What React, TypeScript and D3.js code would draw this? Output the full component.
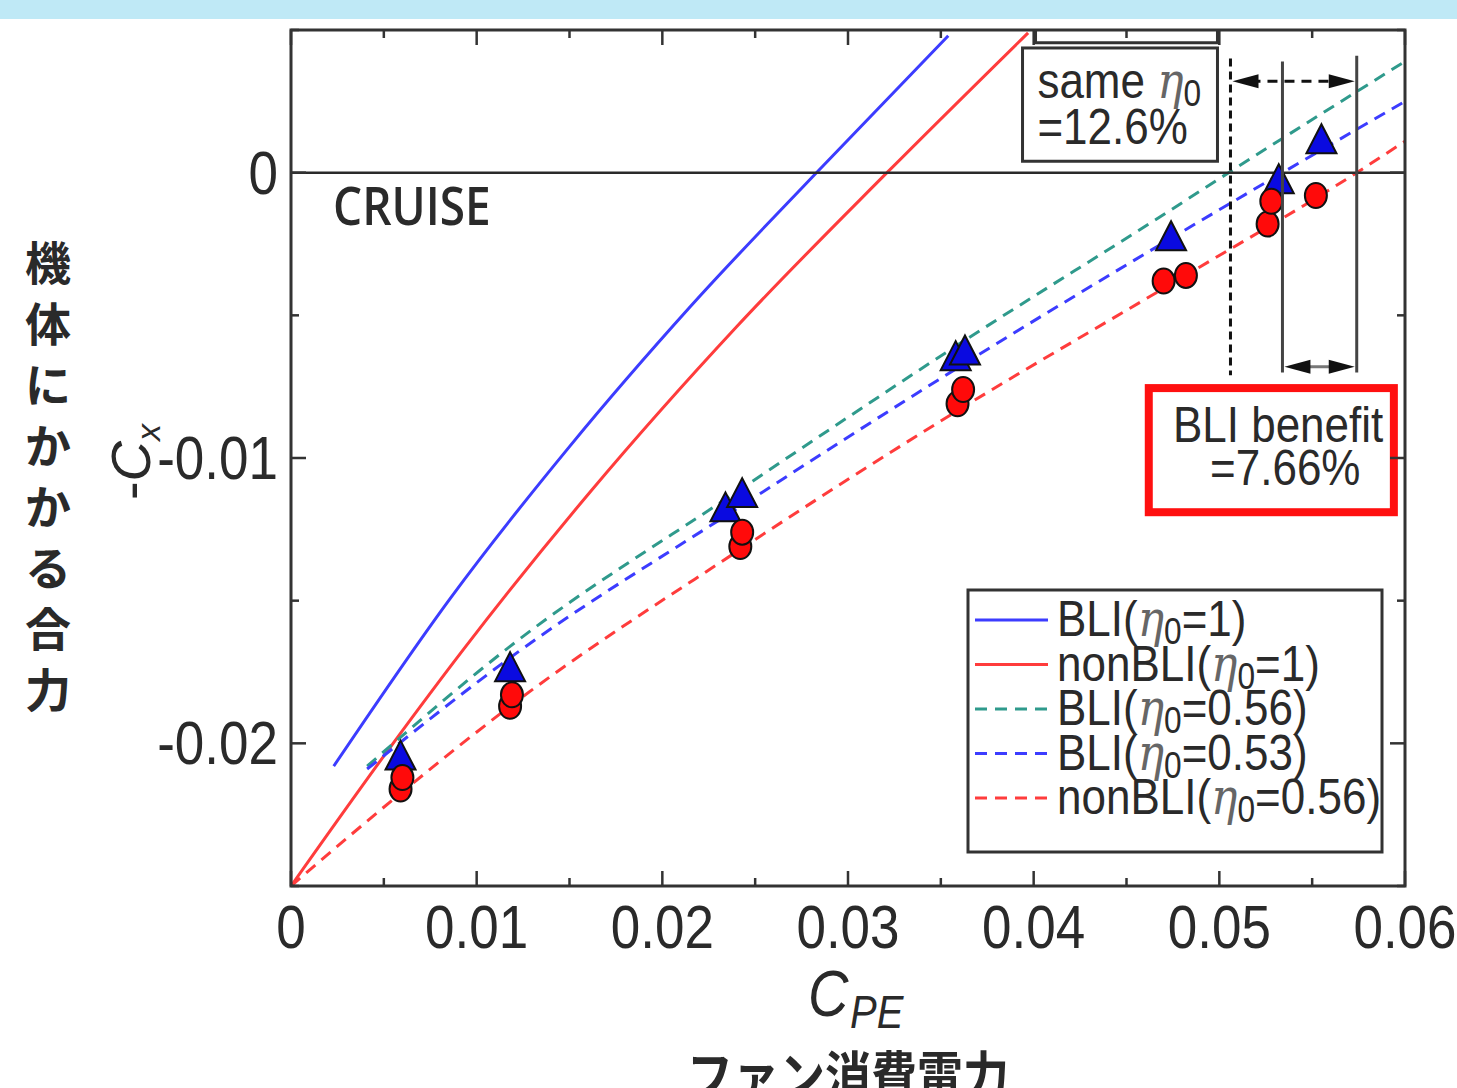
import React from "react";
import * as d3 from "d3";

// ---- data (CPE, -Cx) ----
const xTickLabels = ["0", "0.01", "0.02", "0.03", "0.04", "0.05", "0.06"];
const yTickLabels = ["0", "-0.01", "-0.02"];

const bliIdeal = [[0.0023, -0.0208], [0.0086, -0.0149], [0.0150, -0.0096], [0.0215, -0.0047], [0.0283, 0], [0.0354, 0.0048]];
const nonBliIdeal = [[0, -0.025], [0.0055, -0.0200], [0.0093, -0.0167], [0.0161, -0.0112], [0.0240, -0.0054], [0.0321, 0], [0.0397, 0.0049]];
const bli056 = [[0.0041, -0.0208], [0.0118, -0.0166], [0.0242, -0.0111], [0.0360, -0.0060], [0.0474, -0.0013], [0.0505, 0], [0.060, 0.0039]];
const bli053 = [[0.0041, -0.0209], [0.0118, -0.0170], [0.0242, -0.0117], [0.0360, -0.0068], [0.0474, -0.0023], [0.0534, 0], [0.060, 0.0025]];
const nonBli056 = [[0, -0.025], [0.006, -0.0217], [0.0118, -0.0187], [0.0242, -0.0132], [0.0360, -0.0083], [0.0474, -0.0039], [0.0574, 0], [0.060, 0.0011]];

const bliExpX = [0.0059, 0.0118, 0.0234, 0.0243, 0.0358, 0.0363, 0.0474, 0.0532, 0.0555];
const bliExpY = [-0.0205, -0.0174, -0.0118, -0.0113, -0.0065, -0.0063, -0.0023, -0.0003, 0.0011];
const nonBliExpX = [0.0059, 0.0060, 0.0118, 0.0119, 0.0242, 0.0243, 0.0359, 0.0362, 0.0470, 0.0482, 0.0526, 0.0528, 0.0552];
const nonBliExpY = [-0.0216, -0.0212, -0.0187, -0.0183, -0.0131, -0.0126, -0.0081, -0.0076, -0.0038, -0.0036, -0.0018, -0.0010, -0.0008];

const legendItems = [
  { pre: "BLI(", post: "=1)", color: "#3c3cff", dash: "" },
  { pre: "nonBLI(", post: "=1)", color: "#ff3c3c", dash: "" },
  { pre: "BLI(", post: "=0.56)", color: "#2f9a8c", dash: "12,8" },
  { pre: "BLI(", post: "=0.53)", color: "#3c3cff", dash: "12,8" },
  { pre: "nonBLI(", post: "=0.56)", color: "#ff3c3c", dash: "12,8" },
];
const yTitleChars = ["機", "体", "に", "か", "か", "る", "合", "力"];

const W = 1457;
const H = 1088;
const SY = 1.15; // the source picture is stretched vertically
const INK = "#2a2a2a";
const SANS = "'Liberation Sans', Arial, sans-serif";

const x = d3.scaleLinear().domain([0, 0.06]).range([291, 1405]);
const y = d3.scaleLinear().domain([-0.025, 0.005]).range([886, 30]);

const line = d3.line().x(d => x(d[0])).y(d => y(d[1])).curve(d3.curveMonotoneX);

function T({ x: tx, y: ty, size, anchor = "start", weight = "normal", family = SANS, fill = INK, italic = false, children }) {
  return (
    <text transform={`translate(${tx},${ty}) scale(1,${SY})`} fontSize={size} textAnchor={anchor}
      fontWeight={weight} fontFamily={family} fill={fill} fontStyle={italic ? "italic" : "normal"}>
      {children}
    </text>
  );
}

function Eta({ sub = 0 }) {
  return (
    <>
      <tspan fontFamily="'DejaVu Serif', serif" fontStyle="italic" fill="#666">η</tspan>
      <tspan dy={7} fontSize="0.72em">{sub}</tspan>
    </>
  );
}

function arrowHead(px, py, dir, len = 26, half = 7) {
  // dir: -1 points left, 1 points right
  return `M${px},${py}L${px - dir * len},${py - half}L${px - dir * len},${py + half}Z`;
}

export default function App() {
  const xTicks = x.ticks(12);
  const yTicks = y.ticks(6);
  const [x0, x1] = x.range();
  const yTop = y(0.005);
  const yBot = y(-0.025);

  const triPath = (cx, cy) => `M${cx},${cy - 17}L${cx + 15},${cy + 12}L${cx - 15},${cy + 12}Z`;

  // annotation positions in data units
  const dotX = 0.0506, solidA = 0.0534, solidB = 0.0574;
  const annTop = 0.0040, annBot = -0.0070;
  const arrowTopY = y(0.0032), arrowBotY = y(-0.0068);

  return (
    <svg width={W} height={H} style={{ position: "absolute", left: 0, top: 0, background: "#fff" }}>
      <rect x={0} y={0} width={W} height={19} fill="#bfe9f6" />

      {/* curves */}
      <g fill="none" strokeWidth={3}>
        <path d={line(bliIdeal)} stroke="#3c3cff" />
        <path d={line(nonBliIdeal)} stroke="#ff3c3c" />
        <path d={line(bli056)} stroke="#2f9a8c" strokeDasharray="12,8" />
        <path d={line(bli053)} stroke="#3c3cff" strokeDasharray="12,8" />
        <path d={line(nonBli056)} stroke="#ff3c3c" strokeDasharray="12,8" />
      </g>

      {/* zero line */}
      <line x1={x0} x2={x1} y1={y(0)} y2={y(0)} stroke={INK} strokeWidth={2.5} />

      {/* measured points */}
      <g stroke="#111" strokeWidth={2}>
        {bliExpX.map((v, i) => (
          <path key={"t" + i} d={triPath(x(v), y(bliExpY[i]))} fill="#0a0ae0" />
        ))}
        {nonBliExpX.map((v, i) => (
          <ellipse key={"c" + i} cx={x(v)} cy={y(nonBliExpY[i])} rx={11} ry={12.5} fill="#ff0a0a" />
        ))}
      </g>

      {/* "same eta" box */}
      <g fill="none" stroke="#333" strokeWidth={3}>
        <path d={`M${x(0.0401)},${yTop}V${y(0.00455)}H${x(0.0499)}V${yTop}`} />
        <rect x={x(0.0394)} y={y(0.00437)} width={x(0.0499) - x(0.0394)} height={y(0.0004) - y(0.00437)} fill="#fff" />
      </g>
      <T x={x(0.0402)} y={98} size={44}>same <Eta /></T>
      <T x={x(0.0402)} y={144} size={44}>=12.6%</T>

      {/* difference markers */}
      <line x1={x(dotX)} x2={x(dotX)} y1={y(annTop)} y2={y(annBot - 0.0001)} stroke="#111" strokeWidth={3} strokeDasharray="8,5" />
      <line x1={x(solidA)} x2={x(solidA)} y1={y(annTop - 0.0001)} y2={y(annBot)} stroke="#444" strokeWidth={3} />
      <line x1={x(solidB)} x2={x(solidB)} y1={y(annTop + 0.0001)} y2={y(annBot)} stroke="#444" strokeWidth={3} />
      <line x1={x(dotX) + 20} x2={x(solidB) - 20} y1={arrowTopY} y2={arrowTopY} stroke="#111" strokeWidth={3} strokeDasharray="10,7" />
      <path d={arrowHead(x(dotX) + 2, arrowTopY, -1)} fill="#111" />
      <path d={arrowHead(x(solidB) - 2, arrowTopY, 1)} fill="#111" />
      <line x1={x(solidA) + 20} x2={x(solidB) - 20} y1={arrowBotY} y2={arrowBotY} stroke="#777" strokeWidth={3} />
      <path d={arrowHead(x(solidA) + 2, arrowBotY, -1)} fill="#111" />
      <path d={arrowHead(x(solidB) - 2, arrowBotY, 1)} fill="#111" />

      {/* BLI benefit box */}
      <rect x={x(0.0462)} y={y(-0.00755)} width={x(0.0594) - x(0.0462)} height={y(-0.0119) - y(-0.00755)}
        fill="#fff" stroke="#ff1010" strokeWidth={8} />
      <T x={x(0.0475)} y={442} size={44}>BLI benefit</T>
      <T x={x(0.0495)} y={485} size={44}>=7.66%</T>

      <T x={333} y={225} size={46} weight={600} family="'Open Sans', sans-serif">CRUISE</T>

      {/* legend */}
      <rect x={968} y={590} width={414} height={262} fill="#fff" stroke="#333" strokeWidth={3} />
      {legendItems.map((d, i) => {
        const cy = 620 + i * 44.5;
        return (
          <g key={i}>
            <line x1={975} x2={1048} y1={cy} y2={cy} stroke={d.color} strokeWidth={3} strokeDasharray={d.dash} />
            <T x={1057} y={cy + 16} size={44}>
              {d.pre}<Eta /><tspan dy={-7}>{d.post}</tspan>
            </T>
          </g>
        );
      })}

      {/* frame and ticks */}
      <rect x={x0} y={yTop} width={x1 - x0} height={yBot - yTop} fill="none" stroke="#333" strokeWidth={3} />
      <g stroke="#333" strokeWidth={2.5}>
        {xTicks.map((t, i) => {
          const len = i % 2 === 0 ? 15 : 8;
          return (
            <g key={"xt" + i}>
              <line x1={x(t)} x2={x(t)} y1={yBot} y2={yBot - len} />
              <line x1={x(t)} x2={x(t)} y1={yTop} y2={yTop + len} />
            </g>
          );
        })}
        {yTicks.map((t, i) => {
          const major = Math.abs(Math.round(t / 0.005)) % 2 === 0;
          const len = major ? 15 : 8;
          return (
            <g key={"yt" + i}>
              <line x1={x0} x2={x0 + len} y1={y(t)} y2={y(t)} />
              <line x1={x1} x2={x1 - len} y1={y(t)} y2={y(t)} />
            </g>
          );
        })}
      </g>

      {/* tick labels */}
      {xTicks.filter((t, i) => i % 2 === 0).map((t, i) => (
        <T key={"xl" + i} x={x(t)} y={948} size={53} anchor="middle">{xTickLabels[i]}</T>
      ))}
      {[0, -0.01, -0.02].map((t, i) => (
        <T key={"yl" + i} x={278} y={y(t) + 21} size={53} anchor="end">{yTickLabels[i]}</T>
      ))}

      {/* axis titles */}
      <T x={808} y={1016} size={56} italic>C</T>
      <T x={850} y={1028} size={40} italic>PE</T>
      <T x={848} y={1096} size={46} anchor="middle" weight={700} family="'Noto Sans CJK JP', sans-serif">ファン消費電力</T>

      <text transform="translate(150,462) rotate(-90)" fontSize={56} fontFamily={SANS} fill={INK} textAnchor="middle">
        <tspan>-</tspan><tspan fontStyle="italic">C</tspan><tspan fontSize={34} dy={10} fontStyle="italic">x</tspan>
      </text>

      {yTitleChars.map((c, i) => (
        <text key={"jc" + i} x={48} y={262 + i * 61 + 18} fontSize={46} fontWeight={700} textAnchor="middle"
          fontFamily="'Noto Sans CJK JP', sans-serif" fill={INK}>{c}</text>
      ))}
    </svg>
  );
}
